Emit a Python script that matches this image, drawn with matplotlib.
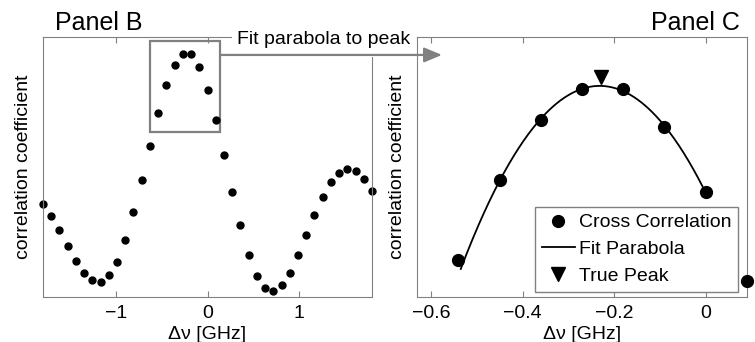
import matplotlib
matplotlib.use("Agg")
import matplotlib.pyplot as plt
import numpy as np
from matplotlib.patches import Rectangle, ConnectionPatch

plt.rcParams['font.family'] = ['Liberation Sans', 'DejaVu Sans']
plt.rcParams['font.size'] = 14

# cross correlation vs frequency shift (GHz), step 0.09
shift = [-1.80, -1.71, -1.62, -1.53, -1.44, -1.35, -1.26, -1.17, -1.08, -0.99,
         -0.90, -0.81, -0.72, -0.63, -0.54, -0.45, -0.36, -0.27, -0.18, -0.09,
         0.00, 0.09, 0.18, 0.27, 0.36, 0.45, 0.54, 0.63, 0.72, 0.81,
         0.90, 0.99, 1.08, 1.17, 1.26, 1.35, 1.44, 1.53, 1.62, 1.71, 1.80]
corr = [0.359, 0.311, 0.256, 0.196, 0.138, 0.093, 0.064, 0.058, 0.083, 0.136,
        0.219, 0.327, 0.451, 0.580, 0.707, 0.814, 0.894, 0.936, 0.935, 0.885,
        0.798, 0.680, 0.545, 0.405, 0.275, 0.163, 0.081, 0.036, 0.023, 0.045,
        0.093, 0.160, 0.237, 0.314, 0.384, 0.442, 0.478, 0.493, 0.484, 0.455,
        0.407]

# points shown in panel C / used for the fit
zoom_idx = list(range(14, 22))
fit_idx = list(range(15, 21))
fit_range = [-0.535, 0.0]
true_peak_x = -0.229
true_peak_y = 0.951

gray = '#808080'
x = np.array(shift)
y = np.array(corr)

fig = plt.figure(figsize=(7.55, 3.42), dpi=100)
ax1 = fig.add_axes([0.057, 0.1316, 0.4357, 0.7602])
ax2 = fig.add_axes([0.5527, 0.1316, 0.4363, 0.7602])

for ax in (ax1, ax2):
    for s in ax.spines.values():
        s.set_color(gray)
    ax.tick_params(axis='x', direction='in', top=True, color=gray, length=4, labelcolor='black', pad=6)
    ax.set_yticks([])
    ax.set_xlabel('\u0394\u03bd [GHz]', labelpad=3)
    ax.set_ylabel('correlation coefficient', labelpad=8)

# Panel B
ax1.plot(x, y, 'o', color='black', ms=5, clip_on=False)
ax1.set_xlim(-1.8, 1.8)
ax1.set_ylim(0, 1)
ax1.set_xticks([-1, 0, 1])
ax1.set_xticklabels(['\u22121', '0', '1'])
ax1.add_patch(Rectangle((-0.63, 0.633), 0.767, 0.353, fill=False, ec=gray, lw=1.6))
ax1.text(0.036, 1.052, 'Panel B', transform=ax1.transAxes, fontsize=18, ha='left', va='center')

# Panel C
xz = x[zoom_idx]
yz = y[zoom_idx]
coef = np.polyfit(x[fit_idx], y[fit_idx], 2)
xf = np.linspace(fit_range[0], fit_range[1], 200)
ax2.plot(xz, yz, 'o', color='black', ms=8.5, clip_on=False, label='Cross Correlation', zorder=3)
ax2.plot(xf, np.polyval(coef, xf), '-', color='black', lw=1.3, label='Fit Parabola')
ax2.plot([true_peak_x], [true_peak_y], 'v', color='black', ms=10, label='True Peak')
ax2.set_xlim(-0.63, 0.09)
ax2.set_ylim(0.658, 1.005)
ax2.set_xticks([-0.6, -0.4, -0.2, 0])
ax2.set_xticklabels(['\u22120.6', '\u22120.4', '\u22120.2', '0'])
ax2.text(0.98, 1.052, 'Panel C', transform=ax2.transAxes, fontsize=18, ha='right', va='center')
leg = ax2.legend(loc='lower right', bbox_to_anchor=(0.974, 0.019), fancybox=False,
                 edgecolor=gray, framealpha=1, handlelength=1.7, handletextpad=0.2,
                 labelspacing=0.48, borderpad=0.35, borderaxespad=0)
leg.get_frame().set_linewidth(1.0)

# annotation: white strip behind label, then connector arrow
fig.add_artist(Rectangle((232 / 755, 1 - 57 / 342), (416 - 232) / 755, 37 / 342,
                         transform=fig.transFigure, fc='white', ec='none', zorder=2))
fig.text(237 / 755, 1 - 39 / 342, 'Fit parabola to peak', ha='left', va='center', zorder=3)
con = ConnectionPatch(xyA=(0.137, 0.931), coordsA=ax1.transData,
                      xyB=(0.075, 0.931), coordsB=ax2.transAxes,
                      arrowstyle='-|>,head_length=0.6,head_width=0.25', mutation_scale=18,
                      color=gray, lw=1.6, shrinkA=0, shrinkB=0, zorder=4)
fig.add_artist(con)

fig.savefig('out.png', dpi=100)
